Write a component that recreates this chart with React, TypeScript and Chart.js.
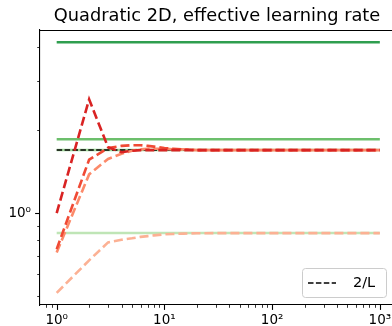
import React, { useEffect, useRef } from "react";
import { Chart, registerables } from "chart.js";

Chart.register(...registerables);

const TITLE = "Quadratic 2D, effective learning rate";

// iterations (x)
const steps = [1, 2, 3, 4, 5, 6, 7, 8, 10, 12, 15, 20, 30, 50, 100, 1000];
// constant reference levels
const constSteps = [1, 1000];
const greenDark = [4.15, 4.15];
const greenMid = [1.85, 1.85];
const greenSoft = [1.69, 1.69];
const greenLight = [0.846, 0.846];
const twoOverL = [1.69, 1.69];
// effective learning rates per iteration
const redDark = [1.0, 2.58, 1.73, 1.66, 1.68, 1.69, 1.69, 1.69, 1.69, 1.69, 1.69, 1.69, 1.69, 1.69, 1.69, 1.69];
const redMid = [0.74, 1.56, 1.72, 1.75, 1.76, 1.76, 1.75, 1.74, 1.72, 1.71, 1.7, 1.69, 1.69, 1.69, 1.69, 1.69];
const redSoft = [0.72, 1.38, 1.57, 1.64, 1.68, 1.7, 1.71, 1.71, 1.71, 1.7, 1.7, 1.69, 1.69, 1.69, 1.69, 1.69];
const redLight = [0.514, 0.674, 0.783, 0.8, 0.81, 0.82, 0.825, 0.83, 0.837, 0.84, 0.842, 0.845, 0.846, 0.846, 0.846, 0.846];

// ticks
const xTickValues = [0.8, 0.9, 1, 2, 3, 4, 5, 6, 7, 8, 9, 10, 20, 30, 40, 50, 60, 70, 80, 90, 100, 200, 300, 400, 500, 600, 700, 800, 900, 1000];
const xMajor = [1, 10, 100, 1000];
const xMajorLabels = ["10⁰", "10¹", "10²", "10³"];
const yTickValues = [0.5, 0.6, 0.7, 0.8, 0.9, 1, 2, 3, 4];
const yMajor = [1];
const yMajorLabels = ["10⁰"];

const FONT = "'DejaVu Sans', sans-serif";

const toPts = (xs: number[], ys: number[]) => xs.map((x, i) => ({ x, y: ys[i] }));

export default function App() {
  const ref = useRef<HTMLCanvasElement | null>(null);
  useEffect(() => {
    if (!ref.current) return;
    const solid = (label: string, ys: number[], color: string, w = 2.5) => ({
      label,
      data: toPts(constSteps, ys),
      borderColor: color,
      backgroundColor: color,
      borderWidth: w,
      pointRadius: 0,
      order: 3,
      fill: false,
    });
    const dashed = (label: string, ys: number[], color: string, order: number) => ({
      label,
      data: toPts(steps, ys),
      borderColor: color,
      backgroundColor: color,
      borderWidth: 2.6,
      borderDash: [9, 4],
      pointRadius: 0,
      order,
      fill: false,
      tension: 0,
    });

    const decor = {
      id: "decor",
      afterDraw(chart: any) {
        const ctx = chart.ctx;
        const a = chart.chartArea;
        ctx.save();
        // top spine
        ctx.strokeStyle = "#000";
        ctx.lineWidth = 1.1;
        ctx.beginPath();
        ctx.moveTo(a.left, a.top + 0.5);
        ctx.lineTo(a.right, a.top + 0.5);
        ctx.stroke();
        // tick marks
        const xs = chart.scales.x;
        xs.ticks.forEach((t: any) => {
          const major = xMajor.includes(t.value);
          const px = Math.round(xs.getPixelForValue(t.value)) + 0.5;
          ctx.lineWidth = major ? 1.1 : 0.8;
          ctx.beginPath();
          ctx.moveTo(px, a.bottom);
          ctx.lineTo(px, a.bottom + (major ? 4.9 : 2.8));
          ctx.stroke();
        });
        const ys = chart.scales.y;
        ys.ticks.forEach((t: any) => {
          const major = yMajor.includes(t.value);
          const py = Math.round(ys.getPixelForValue(t.value)) + 0.5;
          ctx.lineWidth = major ? 1.1 : 0.8;
          ctx.beginPath();
          ctx.moveTo(a.left, py);
          ctx.lineTo(a.left - (major ? 4.9 : 2.8), py);
          ctx.stroke();
        });
        // title
        ctx.fillStyle = "#000";
        ctx.font = `17.8px ${FONT}`;
        ctx.textAlign = "center";
        ctx.textBaseline = "alphabetic";
        ctx.fillText(TITLE, (a.left + a.right) / 2 - 1, 21);
        // legend
        const ds = chart.data.datasets.find((d: any) => d.label === "2/L");
        const bx = 302, by = 268, bw = 84, bh = 29, r = 3;
        ctx.fillStyle = "rgba(255,255,255,0.8)";
        ctx.strokeStyle = "#cccccc";
        ctx.lineWidth = 1;
        ctx.beginPath();
        ctx.roundRect(bx + 0.5, by + 0.5, bw, bh, r);
        ctx.fill();
        ctx.stroke();
        ctx.strokeStyle = ds.borderColor;
        ctx.lineWidth = ds.borderWidth;
        ctx.setLineDash(ds.borderDash);
        ctx.beginPath();
        ctx.moveTo(308, 283);
        ctx.lineTo(336, 283);
        ctx.stroke();
        ctx.setLineDash([]);
        ctx.fillStyle = "#000";
        ctx.font = `14.5px ${FONT}`;
        ctx.textAlign = "left";
        ctx.textBaseline = "middle";
        ctx.fillText(ds.label, 353, 283);
        ctx.restore();
      },
    };

    const chart = new Chart(ref.current, {
      type: "line",
      data: {
        datasets: [
          dashed("redDark", redDark, "#d92323", 0),
          dashed("redMid", redMid, "#f04a35", 0),
          dashed("redSoft", redSoft, "#fc8a6a", 0),
          dashed("redLight", redLight, "#fcb194", 0),
          {
            label: "2/L",
            data: toPts(constSteps, twoOverL),
            borderColor: "#000000",
            backgroundColor: "#000000",
            borderWidth: 1.5,
            borderDash: [5.5, 2.4],
            pointRadius: 0,
            order: 2,
            fill: false,
          },
          solid("gDark", greenDark, "#2f9e4f", 2.5),
          solid("gMid", greenMid, "#6cbf6c", 2.5),
          solid("gSoft", greenSoft, "#a1d99b", 2.5),
          solid("gLight", greenLight, "#bfe5b6", 2.5),
        ] as any,
      },
      plugins: [decor],
      options: {
        animation: false,
        responsive: false,
        devicePixelRatio: 1,
        layout: { padding: { top: 30, right: 8, left: 0, bottom: 0 } },
        plugins: {
          legend: { display: false },
          title: { display: false },
          tooltip: { enabled: false },
        },
        scales: {
          x: {
            type: "logarithmic",
            min: Math.pow(10, -0.15),
            max: Math.pow(10, 3.15),
            afterBuildTicks: (s: any) => {
              s.ticks = xTickValues.map((v) => ({ value: v }));
            },
            afterFit: (s: any) => {
              s.height = 21;
            },
            grid: {
              display: true,
              drawOnChartArea: false,
              drawTicks: true,
              tickLength: 5,
              tickColor: "rgba(0,0,0,0)",
              color: "rgba(0,0,0,0)",
            },
            border: { display: true, color: "#000", width: 1.1 },
            ticks: {
              autoSkip: false,
              maxRotation: 0,
              padding: 2,
              color: "#000",
              font: { family: FONT, size: 13.5 },
              callback: (v: any) => {
                const i = xMajor.indexOf(Number(v));
                return i >= 0 ? xMajorLabels[i] : "";
              },
            },
          },
          y: {
            type: "logarithmic",
            min: 0.4645,
            max: 4.6,
            afterBuildTicks: (s: any) => {
              s.ticks = yTickValues.map((v) => ({ value: v }));
            },
            afterFit: (s: any) => {
              s.width = 40;
            },
            grid: {
              display: true,
              drawOnChartArea: false,
              drawTicks: true,
              tickLength: 5,
              tickColor: "rgba(0,0,0,0)",
              color: "rgba(0,0,0,0)",
            },
            border: { display: true, color: "#000", width: 1.1 },
            ticks: {
              autoSkip: false,
              padding: 4,
              color: "#000",
              font: { family: FONT, size: 13.5 },
              callback: (v: any) => {
                const i = yMajor.indexOf(Number(v));
                return i >= 0 ? yMajorLabels[i] : "";
              },
            },
          },
        },
      },
    } as any);
    return () => chart.destroy();
  }, []);

  return (
    <div style={{ position: "absolute", left: 0, top: 0, width: 392, height: 326, overflow: "hidden", background: "#fff" }}>
      <canvas ref={ref} width={404} height={326} style={{ display: "block" }} />
    </div>
  );
}
